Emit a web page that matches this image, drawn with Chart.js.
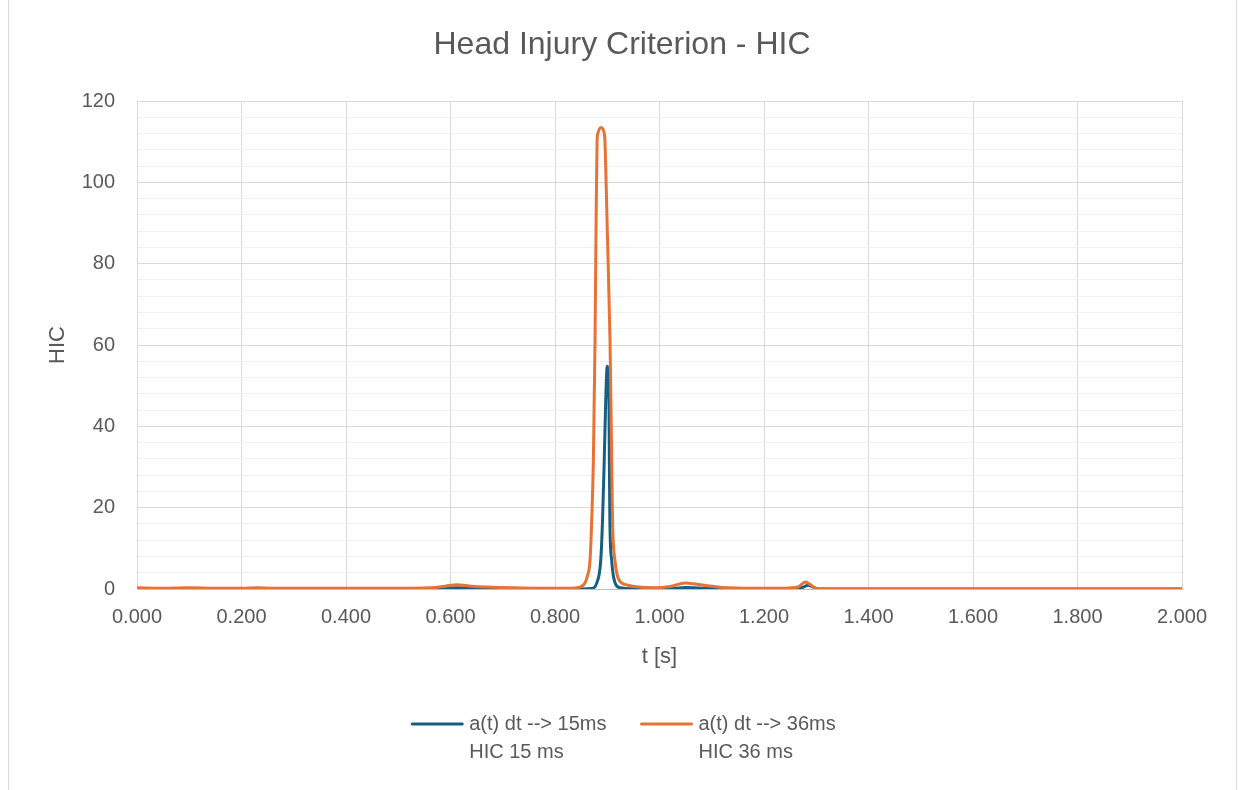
<!DOCTYPE html>
<html>
<head>
<meta charset="utf-8">
<title>Head Injury Criterion - HIC</title>
<script src="https://cdn.jsdelivr.net/npm/chart.js@4.4.1/dist/chart.umd.min.js"></script>
<style>
  html, body { margin: 0; padding: 0; background: #ffffff; }
  #wrap { position: relative; width: 1239px; height: 790px; }
  canvas { display: block; }
</style>
</head>
<body>
<div id="wrap"><canvas id="hicChart" width="1239" height="790"></canvas></div>
<script>
// HIC over time, 15 ms window
const tHic15 = [0.000, 0.300, 0.550, 0.590, 0.612, 0.650, 0.720, 0.850, 0.870, 0.880, 0.8875, 0.891, 0.8943, 0.897, 0.900,
                0.9033, 0.904, 0.905, 0.9085, 0.915, 0.925, 0.950, 1.000, 1.030, 1.050, 1.075, 1.120, 1.250, 1.272, 1.285,
                1.295, 1.305, 1.400, 2.000];
const hic15  = [0.0, 0.0, 0.0, 0.15, 0.3, 0.2, 0.05, 0.0, 0.1, 1.5, 7, 17, 32, 46, 54.8,
                46, 32, 17, 7, 1.5, 0.3, 0.05, 0.0, 0.2, 0.35, 0.25, 0.05, 0.0, 0.3, 0.9,
                0.4, 0.0, 0.0, 0.0];

// HIC over time, 36 ms window
const tHic36 = [0.000, 0.050, 0.100, 0.150, 0.200, 0.230, 0.260, 0.300, 0.400, 0.500, 0.560, 0.590, 0.612, 0.640, 0.670,
                0.720, 0.780, 0.830, 0.845, 0.8574, 0.8625, 0.867, 0.8703, 0.8735, 0.8766, 0.8785, 0.8805, 0.882, 0.888,
                0.8943, 0.8957, 0.8976, 0.9001, 0.9053, 0.9085, 0.9101, 0.9148, 0.9225, 0.938, 0.960, 0.990, 1.020, 1.049,
                1.080, 1.120, 1.180, 1.240, 1.265, 1.279, 1.290, 1.300, 1.320, 1.400, 1.600, 1.800, 2.000];
const hic36  = [0.3, 0.2, 0.3, 0.2, 0.2, 0.3, 0.2, 0.2, 0.2, 0.2, 0.3, 0.7, 1.05, 0.7, 0.5,
                0.3, 0.2, 0.2, 0.4, 1.5, 3.4, 7, 17, 32, 61, 88, 110, 112, 113.5,
                112, 110, 101, 88, 61, 32, 17, 7, 2.2, 1.0, 0.5, 0.3, 0.6, 1.5,
                1.0, 0.4, 0.2, 0.2, 0.5, 1.7, 1.0, 0.1, 0.0, 0.0, 0.0, 0.0, 0.0];

const seriesLabels = [
  ['a(t) dt --> 15ms', 'HIC 15 ms'],
  ['a(t) dt --> 36ms', 'HIC 36 ms']
];
const seriesColors = ['#156082', '#E97132'];
const chartTitle = 'Head Injury Criterion - HIC';

const xRange = [0, 2];
const xStep = 0.2;
const yRange = [0, 120];
const yMinorStep = 4;
const yMajorStep = 20;

const FONT = '"Liberation Sans", Arial, sans-serif';
const TEXT = '#595959';

function toPoints(ts, vs) {
  return ts.map((t, i) => ({ x: t, y: vs[i] }));
}

// Outer frame of the chart object and the chart title
const framePlugin = {
  id: 'frame',
  beforeDraw(chart) {
    const c = chart.ctx;
    c.save();
    c.fillStyle = '#ffffff';
    c.fillRect(0, 0, chart.width, chart.height);
    c.strokeStyle = '#d9d9d9';
    c.lineWidth = 1;
    c.strokeRect(8.5, -1.5, 1228, chart.height + 3);
    c.fillStyle = TEXT;
    c.font = '32px ' + FONT;
    c.textAlign = 'center';
    c.textBaseline = 'middle';
    c.fillText(chartTitle, 622, 45);
    c.restore();
  }
};

// Two-line legend below the axis title
const legendPlugin = {
  id: 'twoLineLegend',
  afterDraw(chart) {
    const c = chart.ctx;
    c.save();
    c.font = '20px ' + FONT;
    const sample = 52, gap = 6, itemGap = 34;
    const items = chart.data.datasets.map((ds, i) => {
      const lines = seriesLabels[i];
      const w = Math.max(...lines.map(l => c.measureText(l).width));
      return { lines, color: ds.borderColor, w: sample + gap + w };
    });
    const total = items.reduce((s, it) => s + it.w, 0) + itemGap * (items.length - 1);
    let x = chart.width / 2 - total / 2 + 4;
    const y1 = 724, lh = 28;
    items.forEach(it => {
      c.strokeStyle = it.color;
      c.lineWidth = 3;
      c.lineCap = 'round';
      c.beginPath();
      c.moveTo(x + 1, y1);
      c.lineTo(x + sample - 1, y1);
      c.stroke();
      c.fillStyle = TEXT;
      c.textBaseline = 'middle';
      c.textAlign = 'left';
      it.lines.forEach((l, k) => c.fillText(l, x + sample + gap, y1 + k * lh));
      x += it.w + itemGap;
    });
    c.restore();
  }
};

new Chart(document.getElementById('hicChart'), {
  type: 'line',
  data: {
    datasets: [
      {
        label: seriesLabels[0].join(' '),
        data: toPoints(tHic15, hic15),
        borderColor: seriesColors[0],
        backgroundColor: seriesColors[0],
        borderWidth: 3,
        pointRadius: 0,
        fill: false,
        cubicInterpolationMode: 'monotone',
        order: 2
      },
      {
        label: seriesLabels[1].join(' '),
        data: toPoints(tHic36, hic36),
        borderColor: seriesColors[1],
        backgroundColor: seriesColors[1],
        borderWidth: 3,
        pointRadius: 0,
        fill: false,
        cubicInterpolationMode: 'monotone',
        order: 1
      }
    ]
  },
  options: {
    responsive: false,
    animation: false,
    layout: { padding: { left: 42, right: 57, top: 101, bottom: 111 } },
    plugins: {
      legend: { display: false },
      tooltip: { enabled: false },
      title: { display: false }
    },
    scales: {
      x: {
        type: 'linear',
        min: xRange[0],
        max: xRange[1],
        ticks: {
          stepSize: xStep,
          autoSkip: false,
          maxRotation: 0,
          padding: 16,
          color: TEXT,
          font: { family: FONT, size: 20 },
          callback: v => Number(v).toFixed(3)
        },
        grid: { color: '#d9d9d9', lineWidth: 1, drawTicks: false },
        border: { color: '#bfbfbf' },
        title: {
          display: true,
          text: 't [s]',
          color: TEXT,
          font: { family: FONT, size: 22 },
          padding: { top: 4, bottom: 9 }
        },
        afterFit(scale) { scale.height = 90; }
      },
      y: {
        min: yRange[0],
        max: yRange[1],
        ticks: {
          stepSize: yMinorStep,
          autoSkip: false,
          padding: 22,
          color: TEXT,
          font: { family: FONT, size: 20 },
          callback: v => (Math.round(v) % yMajorStep === 0 ? String(Math.round(v)) : '')
        },
        grid: {
          drawTicks: false,
          lineWidth: 1,
          color: ctx => (ctx.tick && Math.round(ctx.tick.value) % yMajorStep === 0 ? '#d9d9d9' : '#f0f0f0')
        },
        border: { color: '#d9d9d9' },
        title: {
          display: true,
          text: 'HIC',
          color: TEXT,
          font: { family: FONT, size: 22 },
          padding: { top: 3, bottom: 4 }
        },
        afterFit(scale) { scale.width = 95; }
      }
    }
  },
  plugins: [framePlugin, legendPlugin]
});
</script>
</body>
</html>
